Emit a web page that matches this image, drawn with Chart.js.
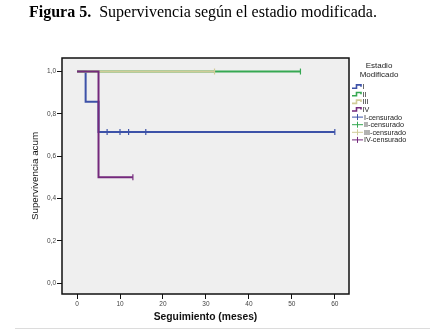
<!DOCTYPE html>
<html>
<head>
<meta charset="utf-8">
<script src="https://cdn.jsdelivr.net/npm/chart.js@4.4.0/dist/chart.umd.min.js"></script>
<style>
  html, body { margin: 0; padding: 0; background: #fff; }
  #wrap { position: relative; width: 433px; height: 330px; }
  #km { position: absolute; left: 0; top: 0; }
  #caption {
    position: absolute; left: 29px; top: 3px;
    font-family: "Liberation Serif", "Times New Roman", serif;
    font-size: 16px; color: #000; white-space: nowrap;
  }
</style>
</head>
<body>
<div id="wrap">
  <canvas id="km" width="433" height="330"></canvas>
  <div id="caption"><b>Figura 5.</b>&nbsp; Supervivencia según el estadio modificada.</div>
</div>
<script>
// ================================
// DATA
// ================================
const stages = ["I", "II", "III", "IV"];

// step curves: time of each event and survival after it
const timesI = [0, 2, 5, 60];
const survI = [1, 0.857, 0.714, 0.714];
const timesII = [0, 52];
const survII = [1, 1];
const timesIII = [0, 32];
const survIII = [1, 1];
const timesIV = [0, 5, 13];
const survIV = [1, 0.5, 0.5];

// censored observations (months)
const censI = [7, 10, 12, 16, 60];
const censII = [52];
const censIII = [32];
const censIV = [13];

const xTicks = [0, 10, 20, 30, 40, 50, 60];
const yTicks = [0, 0.2, 0.4, 0.6, 0.8, 1.0];

// styles
const stageColors = ["#3d52a8", "#36a852", "#d0cc98", "#74297c"];
const FONT = "'Liberation Sans', Arial, sans-serif";

const curves = [
  { t: timesI, s: survI, c: censI },
  { t: timesII, s: survII, c: censII },
  { t: timesIII, s: survIII, c: censIII },
  { t: timesIV, s: survIV, c: censIV }
];

// survival value of a curve at time x (for placing the censor marks)
const survAt = (curve, x) => {
  let v = curve.s[0];
  curve.t.forEach((t, i) => { if (t <= x) v = curve.s[i]; });
  return v;
};

const stepSets = curves.map((cv, i) => ({
  label: stages[i],
  data: cv.t.map((t, k) => ({ x: t, y: cv.s[k] })),
  borderColor: stageColors[i],
  borderWidth: 2,
  stepped: true,
  pointRadius: 0,
  showLine: true,
  order: 10 - i
}));

const censSets = curves.map((cv, i) => ({
  label: stages[i] + "-censurado",
  data: cv.c.map(x => ({ x: x, y: survAt(cv, x) })),
  borderColor: stageColors[i],
  backgroundColor: stageColors[i],
  pointStyle: "line",
  rotation: 90,
  pointRadius: 3,
  borderWidth: 1.2,
  showLine: false,
  order: 5 - i
}));

// ================================
// PLOT FRAME + LEGEND PLUGINS
// ================================
const framePlugin = {
  id: "frame",
  beforeDatasetsDraw(chart) {
    const { ctx, chartArea: a } = chart;
    ctx.save();
    ctx.fillStyle = "#efefef";
    ctx.fillRect(a.left, a.top, a.right - a.left, a.bottom - a.top);
    ctx.restore();
  },
  afterDraw(chart) {
    const { ctx, chartArea: a } = chart;
    ctx.save();
    ctx.strokeStyle = "#111";
    ctx.lineWidth = 1.5;
    ctx.strokeRect(a.left, a.top, a.right - a.left, a.bottom - a.top);
    // thin separator under the figure
    ctx.strokeStyle = "#dcdcdc";
    ctx.lineWidth = 1;
    ctx.beginPath();
    ctx.moveTo(15, 328.5);
    ctx.lineTo(430, 328.5);
    ctx.stroke();
    ctx.restore();
  }
};

const legendPlugin = {
  id: "kmLegend",
  afterDraw(chart) {
    const ctx = chart.ctx;
    ctx.save();
    ctx.fillStyle = "#222";
    ctx.textAlign = "center";
    ctx.textBaseline = "middle";
    ctx.font = "8px " + FONT;
    ctx.fillText("Estadio", 379, 66);
    ctx.fillText("Modificado", 379, 74.5);

    ctx.textAlign = "left";
    ctx.font = "7.2px " + FONT;
    const x0 = 352, rowH = 7.6;
    let y = 86.7;
    stages.forEach((s, i) => {
      ctx.strokeStyle = stageColors[i];
      ctx.lineWidth = 1.6;
      ctx.beginPath();
      ctx.moveTo(x0, y + 1.5);
      ctx.lineTo(x0 + 4.5, y + 1.5);
      ctx.lineTo(x0 + 4.5, y - 1.8);
      ctx.lineTo(x0 + 9, y - 1.8);
      ctx.lineTo(x0 + 9, y);
      ctx.stroke();
      ctx.fillText(s, x0 + 10.5, y + 0.5);
      y += rowH;
    });
    stages.forEach((s, i) => {
      ctx.strokeStyle = stageColors[i];
      ctx.lineWidth = 1;
      ctx.beginPath();
      ctx.moveTo(x0, y);
      ctx.lineTo(x0 + 11, y);
      ctx.moveTo(x0 + 5.5, y - 3);
      ctx.lineTo(x0 + 5.5, y + 3);
      ctx.stroke();
      ctx.fillText(s + "-censurado", x0 + 12, y + 0.5);
      y += rowH;
    });
    ctx.restore();
  }
};

// ================================
// CHART
// ================================
const fmt = v => v.toFixed(1).replace(".", ",");

new Chart(document.getElementById("km").getContext("2d"), {
  type: "scatter",
  data: { datasets: [...stepSets, ...censSets] },
  options: {
    responsive: false,
    animation: false,
    layout: { padding: { left: 0, right: 84, top: 58, bottom: 0 } },
    plugins: {
      legend: { display: false },
      tooltip: { enabled: false }
    },
    scales: {
      x: {
        type: "linear",
        min: -3.5,
        max: 63.3,
        afterBuildTicks: sc => { sc.ticks = xTicks.map(v => ({ value: v })); },
        afterFit: sc => { sc.height = 36; },
        grid: { drawOnChartArea: false, drawTicks: true, tickLength: 5, color: "#111", lineWidth: 1 },
        border: { display: false },
        ticks: {
          font: { family: FONT, size: 6.5 }, color: "#444", padding: 1,
          maxRotation: 0, callback: v => String(v)
        },
        title: {
          display: true, text: "Seguimiento (meses)",
          font: { family: FONT, size: 10.3, weight: "bold" }, color: "#111",
          padding: { top: 0, bottom: 7 }
        }
      },
      y: {
        type: "linear",
        min: -0.052,
        max: 1.064,
        afterBuildTicks: sc => { sc.ticks = yTicks.map(v => ({ value: v })); },
        afterFit: sc => { sc.width = 62; },
        grid: { drawOnChartArea: false, drawTicks: true, tickLength: 5, color: "#111", lineWidth: 1 },
        border: { display: false },
        ticks: {
          font: { family: FONT, size: 6.5 }, color: "#444", padding: 1,
          callback: v => fmt(v)
        },
        title: {
          display: true, text: "Supervivencia acum",
          font: { family: FONT, size: 9.8 }, color: "#111",
          padding: { top: 29, bottom: 0 }
        }
      }
    }
  },
  plugins: [framePlugin, legendPlugin]
});
</script>
</body>
</html>
